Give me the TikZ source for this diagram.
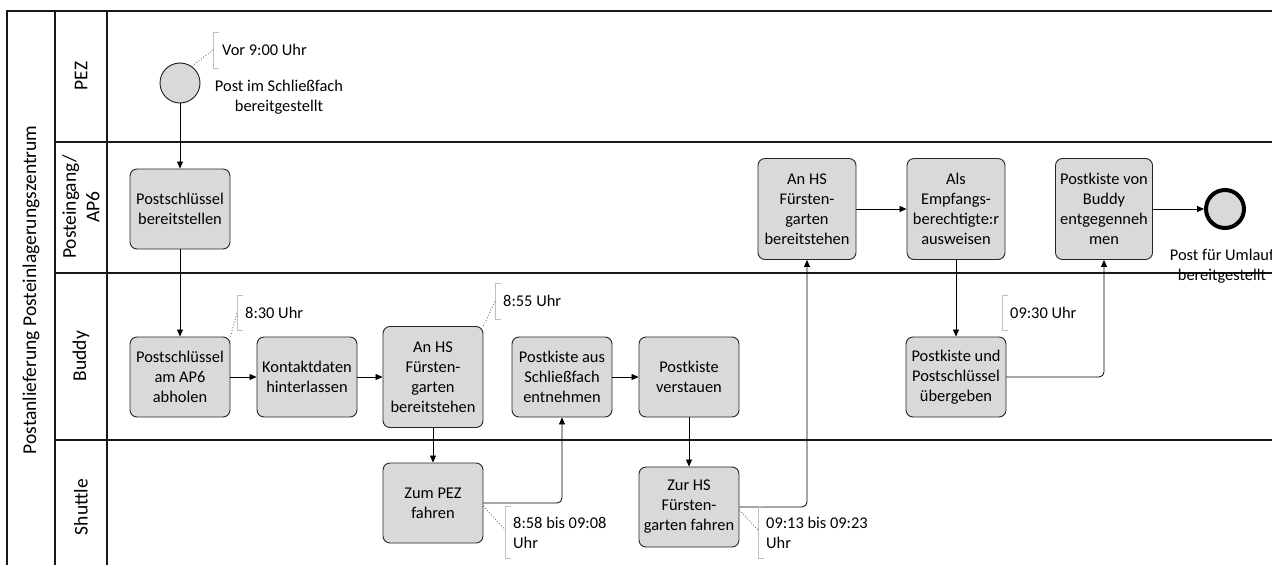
\documentclass[tikz,border=0pt]{standalone}
\usepackage{fontspec}
\setmainfont{Carlito}
\usetikzlibrary{arrows.meta}

\newcommand{\lbl}{\fontsize{16.4}{20}\selectfont}
\newcommand{\lanelbl}{\fontsize{19.5}{23.5}\selectfont}

\begin{document}
\begin{tikzpicture}[x=1pt,y=-1pt,
  lane/.style={draw=black!90, line width=1.4pt},
  lanetitle/.style={rotate=90, align=center, font=\lanelbl},
  task/.style={draw=black!85, fill=black!15, line width=0.9pt, rounded corners=7,
    minimum width=100, minimum height=80, inner sep=0, align=center, font=\lbl},
  tall/.style={task, minimum height=101},
  flow/.style={draw=black, line width=0.8pt, rounded corners=5,
    -{Triangle[length=7pt,width=6pt]}},
  bracket/.style={draw=black!25, line width=0.9pt},
  assoc/.style={draw=black!55, line width=0.9pt, dotted},
  note/.style={anchor=west, align=left, inner sep=0, font=\lbl},
  caption/.style={align=center, inner sep=0, font=\lbl}]

\useasboundingbox (0,0) rectangle (1272,565);
\clip (0,0) rectangle (1272,565);
\fill[white] (0,0) rectangle (1272,565);

% pool and lanes
\draw[lane] (7,11) rectangle (1300,575);
\draw[lane] (55,11) -- (55,575);
\draw[lane] (107,11) -- (107,575);
\draw[lane] (55,142) -- (1300,142);
\draw[lane] (55,273) -- (1300,273);
\draw[lane] (55,440) -- (1300,440);

\node[lanetitle] (pool) at (31,290) {Postanlieferung Posteinlagerungszentrum};
\node[lanetitle] (lpez) at (81,76) {PEZ};
\node[lanetitle] (lpost) at (81,207) {Posteingang/\\AP6};
\node[lanetitle] (lbuddy) at (81,356) {Buddy};
\node[lanetitle] (lshuttle) at (81,507) {Shuttle};

% events
\node[circle, draw=black!90, fill=black!15, line width=0.9pt, minimum size=40, inner sep=0] (start) at (180,83) {};
\node[caption] (startlbl) at (279,97) {Post im Schließfach\\bereitgestellt};
\node[circle, draw=black, fill=black!15, line width=4pt, minimum size=38, inner sep=0] (end) at (1225,209) {};
\node[caption] (endlbl) at (1222,266) {Post für Umlauf\\bereitgestellt};

% tasks
\node[task] (t1) at (180,209) {Postschlüssel\\bereitstellen};
\node[task] (b1) at (180,377) {Postschlüssel\\am AP6\\abholen};
\node[task] (b2) at (307,377) {Kontaktdaten\\hinterlassen};
\node[tall] (b3) at (433,377) {An HS\\Fürsten-\\garten\\bereitstehen};
\node[task] (s1) at (433,503) {Zum PEZ\\fahren};
\node[task] (b4) at (562,377) {Postkiste aus\\Schließfach\\entnehmen};
\node[task] (b5) at (689,377) {Postkiste\\verstauen};
\node[task] (s2) at (689,507) {Zur HS\\Fürsten-\\garten fahren};
\node[tall, minimum width=98] (p2) at (807,209) {An HS\\Fürsten-\\garten\\bereitstehen};
\node[tall, minimum width=98] (p3) at (956,209) {Als\\Empfangs-\\berechtigte:r\\ausweisen};
\node[tall, minimum width=97] (p4) at (1104,209) {Postkiste von\\Buddy\\entgegenneh\\men};
\node[task] (b6) at (956,377) {Postkiste und\\Postschlüssel\\übergeben};

% sequence flows
\draw[flow] (start) -- (t1);
\draw[flow] (t1) -- (b1);
\draw[flow] (b1) -- (b2);
\draw[flow] (b2) -- (b3);
\draw[flow] (b3) -- (s1);
\draw[flow] (s1.east) -| (b4.south);
\draw[flow] (b4) -- (b5);
\draw[flow] (b5) -- (s2);
\draw[flow] (s2.east) -| (p2.south);
\draw[flow] (p2) -- (p3);
\draw[flow] (p3) -- (b6);
\draw[flow] (b6.east) -| (p4.south);
\draw[flow] (p4) -- (end);

% annotations with their associations
\draw[bracket] (219,32) -- (213,32) -- (213,68) -- (219,68);
\node[note] (n1) at (222,50) {Vor 9:00 Uhr};
\draw[assoc] (start.55) -- (213,50);

\draw[bracket] (243,295) -- (237,295) -- (237,330) -- (243,330);
\node[note] (n2) at (245,313) {8:30 Uhr};
\draw[assoc] (b1.north east) -- (237,313);

\draw[bracket] (501,283) -- (495,283) -- (495,319) -- (501,319);
\node[note] (n3) at (503,301) {8:55 Uhr};
\draw[assoc] (b3.north east) -- (495,301);

\draw[bracket] (511,506) -- (505,506) -- (505,558) -- (511,558);
\node[note] (n4) at (513,533) {8:58 bis 09:08\\Uhr};
\draw[assoc] ([yshift=-3]s1.east) -- (505,530);

\draw[bracket] (764,506) -- (758,506) -- (758,558) -- (764,558);
\node[note] (n5) at (766,533) {09:13 bis 09:23\\Uhr};
\draw[assoc] ([yshift=-3]s2.east) -- (758,530);

\draw[bracket] (1008,295) -- (1002,295) -- (1002,330) -- (1008,330);
\node[note] (n6) at (1010,313) {09:30 Uhr};

\end{tikzpicture}
\end{document}
